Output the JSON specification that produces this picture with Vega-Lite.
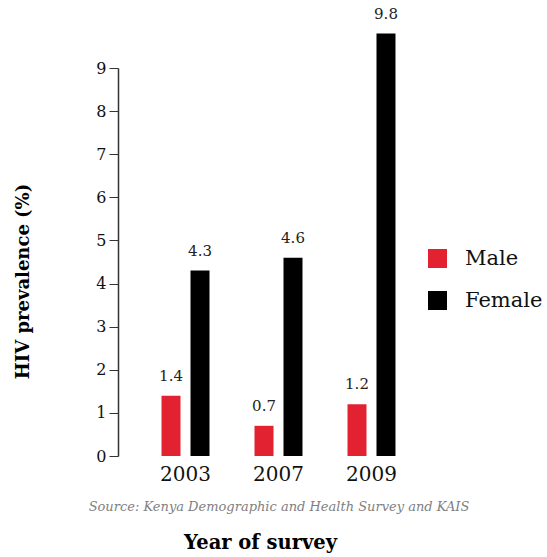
{
  "$schema": "https://vega.github.io/schema/vega-lite/v6.json",
  "autosize": {"type": "none"},
  "padding": {"left": 118, "top": 68, "right": 108, "bottom": 101},
  "width": 321,
  "height": 388,
  "background": "white",
  "config": {
    "font": "DejaVu Serif",
    "view": {"stroke": null}
  },
  "title": {
    "text": "Year of survey",
    "orient": "bottom",
    "anchor": "middle",
    "font": "DejaVu Serif",
    "fontSize": 19.5,
    "fontWeight": "bold",
    "color": "#000",
    "offset": 21,
    "dx": -18
  },
  "data": {
    "values": [
      {"year": "2003", "sex": "Male", "value": 1.4},
      {"year": "2003", "sex": "Female", "value": 4.3},
      {"year": "2007", "sex": "Male", "value": 0.7},
      {"year": "2007", "sex": "Female", "value": 4.6},
      {"year": "2009", "sex": "Male", "value": 1.2},
      {"year": "2009", "sex": "Female", "value": 9.8}
    ]
  },
  "encoding": {
    "x": {
      "field": "year",
      "type": "nominal",
      "scale": {"paddingInner": 0.484, "paddingOuter": 0.468},
      "axis": {
        "title": "Source: Kenya Demographic and Health Survey and KAIS",
        "titleFont": "DejaVu Serif",
        "titleFontStyle": "italic",
        "titleFontWeight": "normal",
        "titleFontSize": 13,
        "titleColor": "#808080",
        "titleY": 50,
        "titleBaseline": "middle",
        "labelAngle": 0,
        "labelFontSize": 20,
        "labelColor": "#111111",
        "labelPadding": 8,
        "domain": false,
        "ticks": false,
        "tickSize": 0
      }
    },
    "xOffset": {
      "field": "sex",
      "type": "nominal",
      "sort": ["Male", "Female"],
      "scale": {"paddingInner": 0.345, "paddingOuter": 0}
    },
    "y": {
      "field": "value",
      "type": "quantitative",
      "scale": {"domain": [0, 9], "nice": false, "zero": true},
      "axis": {
        "title": "HIV prevalence (%)",
        "titleFont": "DejaVu Serif",
        "titleFontSize": 18,
        "titleFontWeight": "bold",
        "titleColor": "#000",
        "titleX": -95,
        "titleY": 213,
        "titleAngle": -90,
        "titleAlign": "center",
        "titleBaseline": "middle",
        "values": [0, 1, 2, 3, 4, 5, 6, 7, 8, 9],
        "grid": false,
        "domainColor": "#333333",
        "domainWidth": 1.5,
        "tickColor": "#333333",
        "tickSize": 9,
        "tickWidth": 1,
        "labelFontSize": 16,
        "labelColor": "#111111",
        "labelPadding": 3
      }
    }
  },
  "layer": [
    {
      "mark": {"type": "bar", "clip": false},
      "encoding": {
        "color": {
          "field": "sex",
          "type": "nominal",
          "scale": {"domain": ["Male", "Female"], "range": ["#e32231", "#000000"]},
          "legend": {
            "title": null,
            "orient": "none",
            "legendX": 309,
            "legendY": 180,
            "symbolType": "square",
            "symbolSize": 361,
            "symbolStrokeWidth": 0,
            "labelFont": "DejaVu Serif",
            "labelFontSize": 21,
            "labelColor": "#111111",
            "labelOffset": 17,
            "rowPadding": 20,
            "padding": 0
          }
        }
      }
    },
    {
      "mark": {"type": "text", "baseline": "middle", "dy": -20, "fontSize": 15, "color": "#222222", "clip": false},
      "encoding": {
        "text": {"field": "value", "type": "quantitative", "format": ".1f"}
      }
    }
  ]
}
